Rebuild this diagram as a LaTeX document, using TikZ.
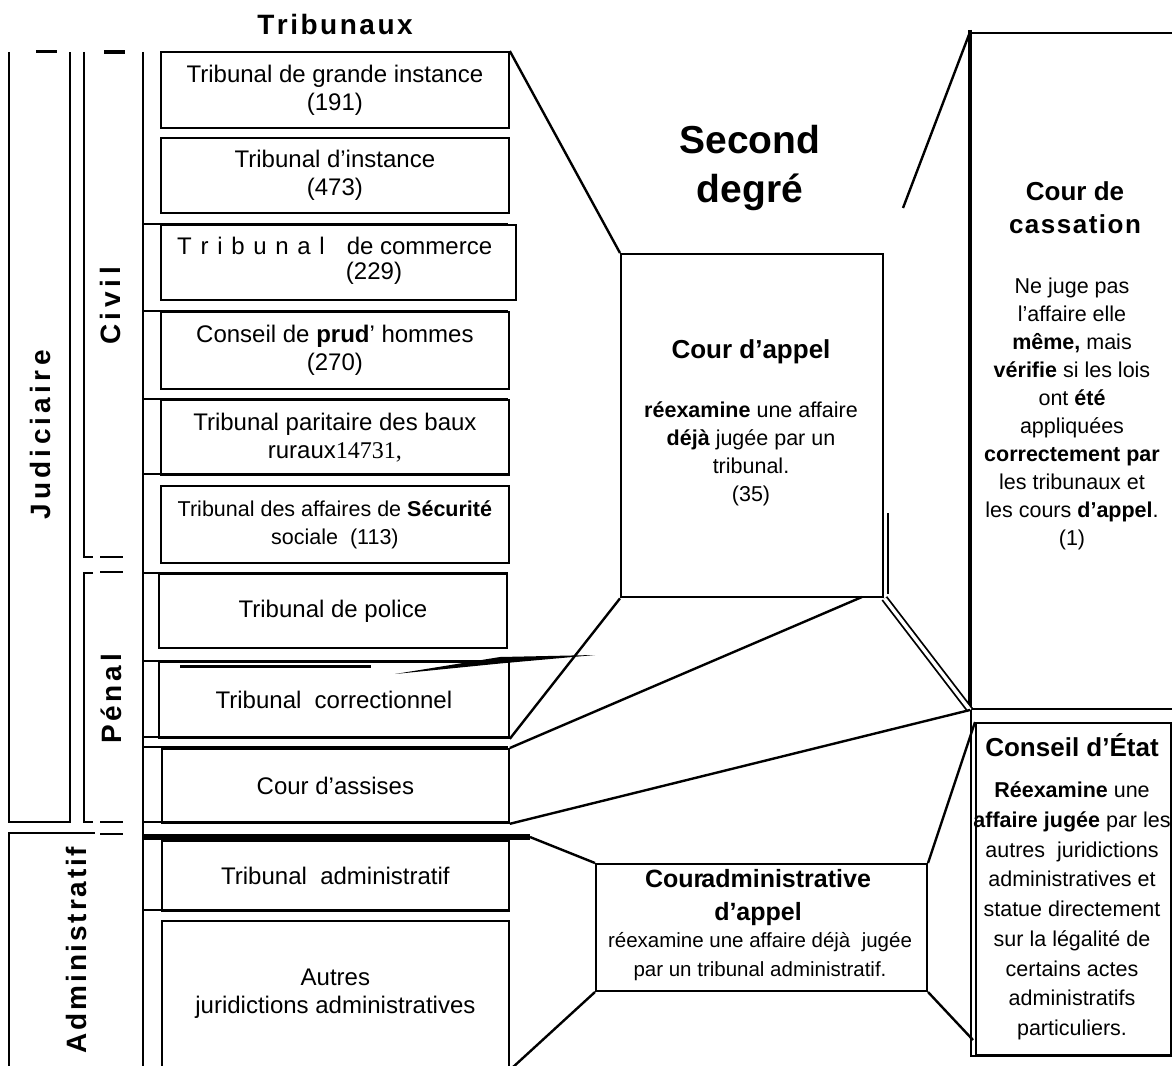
\documentclass[tikz,border=0pt]{standalone}
\usepackage{fontspec}
\setmainfont{Liberation Sans}
\newfontfamily\serifnum{Liberation Serif}
\usetikzlibrary{calc}

\newlength{\lskern}
\makeatletter
\def\lsp#1#2{\setlength{\lskern}{#1}\lsp@#2\@nil\kern-\lskern}
\def\lsp@#1{\ifx#1\@nil\else#1\kern\lskern\expandafter\lsp@\fi}
\makeatother

\newcommand\fTb{\fontsize{24}{28}\selectfont}
\newcommand\fBody{\fontsize{21.5}{28}\selectfont}
\newcommand\fHead{\fontsize{26}{33}\selectfont\bfseries}
\newcommand\fSide{\fontsize{28}{32}\selectfont\bfseries}

\begin{document}
\begin{tikzpicture}[x=1pt,y=-1pt,
  tb/.style={draw, line width=1.8pt, anchor=north west, inner sep=0pt, align=center, font=\fTb},
  rbox/.style={draw, line width=2pt, anchor=north west, inner sep=0pt},
  sep/.style={line width=1.8pt},
  conn/.style={line width=2.4pt},
  txt/.style={inner sep=0pt, align=center},
  vlabel/.style={rotate=90, inner sep=0pt, font=\fSide},
]
\path[use as bounding box, fill=white] (0,0) rectangle (1172,1065);

% ---------- left frame ----------
\node[txt, font=\fontsize{28}{32}\selectfont\bfseries] (trib) at (335,24) {\lsp{2.5pt}{Tribunaux}};
\draw[sep] (9,52) -- (9,822) -- (70,822) -- (70,52);
\draw[line width=3pt] (36,52) -- (57,52);
\draw[sep] (84,52) -- (84,557) -- (93,557);
\draw[line width=3.5pt] (104,52) -- (125,52);
\draw[sep] (100,557) -- (123,557) (100,572) -- (123,572) (100,822) -- (123,822) (100,834) -- (123,834);
\draw[sep] (93,573) -- (84,573) -- (84,822) -- (93,822);
\draw[sep] (9,1070) -- (9,833) -- (95,833);
\draw[sep] (143,52) -- (143,1070);
\foreach \yy in {224,311,399,474,573,661,737,747,822,910} \draw[sep] (143,\yy) -- (508,\yy);

\node[vlabel] (jud) at (40,435) {\lsp{4.3pt}{Judiciaire}};
\node[vlabel] (civ) at (110,306) {\lsp{4.7pt}{Civil}};
\node[vlabel] (pen) at (111,699) {\lsp{3.8pt}{Pénal}};
\node[vlabel] (adm) at (76,950) {\lsp{2.8pt}{Administratif}};

% ---------- tribunals ----------
\node[tb, minimum width=348pt, minimum height=76pt] (t1) at (160,51) {Tribunal de grande instance\\(191)};
\node[tb, minimum width=348pt, minimum height=75pt] (t2) at (160,137) {Tribunal d'instance\\(473)};
\node[tb, minimum width=355pt, minimum height=75pt] (t3) at (160,224) {};
\node[txt, font=\fTb, anchor=west] (t3a) at (177,246) {\lsp{8.7pt}{Tribunal}\hspace{22pt}de commerce};
\node[txt, font=\fTb] (t3b) at (374,273) {(229)};
\node[tb, minimum width=348pt, minimum height=77pt] (t4) at (160,311) {Conseil de \textbf{prud}' hommes\\(270)};
\node[tb, minimum width=348pt, minimum height=75pt] (t5) at (160,399) {Tribunal paritaire des baux\\ruraux{\serifnum 14731,}};
\node[tb, minimum width=348pt, minimum height=77pt, font=\fontsize{21.5}{28}\selectfont] (t6) at (160,485) {Tribunal des affaires de \textbf{Sécurité}\\sociale\ \ (113)};
\node[tb, minimum width=348pt, minimum height=74pt] (t7) at (158,573) {Tribunal de police};
\node[tb, minimum width=350pt, minimum height=76pt] (t8) at (158,661) {Tribunal\ \ correctionnel};
\node[tb, minimum width=347pt, minimum height=74pt] (t9) at (161,748) {Cour d’assises};
\node[tb, minimum width=347pt, minimum height=70pt] (t10) at (161,840) {Tribunal\ \ administratif};
\node[tb, minimum width=347pt, minimum height=146pt] (t11) at (161,920) {Autres\\juridictions administratives};

\draw[line width=2.5pt] (180,666.5) -- (371,666.5);
\fill (395,674) -- (500,663.5) -- (595,655) -- (500,657) -- cycle;
\draw[line width=5.5pt] (143,837) -- (530,837);
\coordinate (bar) at (530,837);

% ---------- second degree ----------
\node[txt, font=\fontsize{39}{49}\selectfont\bfseries] (sd) at (750,168) {Second\\degré};
\node[rbox, line width=2.4pt, minimum width=262pt, minimum height=343pt] (ca) at (620,253) {};
\draw[line width=1.5pt] (888,513) -- (888,594);
\node[txt, font=\fHead] (cat) at (751,352) {Cour d’appel};
\node[txt, font=\fBody] (cab) at (751,454) {\textbf{réexamine} une affaire\\\textbf{déjà} jugée par un\\tribunal.\\(35)};

\node[rbox, minimum width=331pt, minimum height=127pt] (cadm) at (595,863) {};
\node[txt, font=\fontsize{25}{33}\selectfont\bfseries] (cadmt) at (758,898) {Cour\kern-2pt administrative\\d'appel};
\node[txt, font=\fontsize{20.5}{29}\selectfont] (cadmb) at (760,957) {réexamine une affaire déjà\ \ jugée\\par un tribunal administratif.};

% ---------- supreme courts ----------
\node[rbox, minimum width=215pt, minimum height=676pt] (cc) at (970,32) {};
\draw[line width=4.5pt] (970,30) -- (970,708);
\node[txt, font=\fHead] (cct) at (1075,208) {Cour de\\\lsp{1.5pt}{cassation}};
\node[txt, font=\fBody] (ccb) at (1072,414) {Ne juge pas\\l’affaire elle\\\textbf{même,} mais\\\textbf{vérifie} si les lois\\ont \textbf{été}\\appliquées\\\textbf{correctement par}\\les tribunaux et\\les cours \textbf{d'appel}.\\(1)};

\node[rbox, minimum width=195pt, minimum height=332pt] (ce) at (975,722) {};
\draw[sep] (971,708) -- (971,1056) -- (1172,1056);
\node[txt, font=\fHead] (cet) at (1072,745) {Conseil d'État};
\node[txt, font=\fontsize{21.5}{29.75}\selectfont] (ceb) at (1072,911) {\textbf{Réexamine} une\\\textbf{affaire jugée} par les\\autres\ \ juridictions\\administratives et\\statue directement\\sur la légalité de\\certains actes\\administratifs\\particuliers.};

% ---------- connectors ----------
\coordinate (ca2) at (862,597);
\coordinate (rd) at (903,208);
\coordinate (bl) at (512,1068);
\coordinate (cel) at (973,1040);
\draw[conn] (t1.north east) -- (ca.north west);
\draw[conn] (cc.north west) -- (rd);
\draw[conn] (ca.south west) -- (t8.south east);
\draw[conn] (ca2) -- (t9.north east);
\draw[double, double distance=3.5pt, line width=1.8pt] (ca.south east) -- (cc.south west);
\draw[conn] (cc.south west) -- (t9.south east);
\draw[conn] (bar) -- (cadm.north west);
\draw[conn] (ce.north west) -- (cadm.north east);
\draw[conn] (cadm.south west) -- (bl);
\draw[conn] (cadm.south east) -- (cel);
\end{tikzpicture}
\end{document}
